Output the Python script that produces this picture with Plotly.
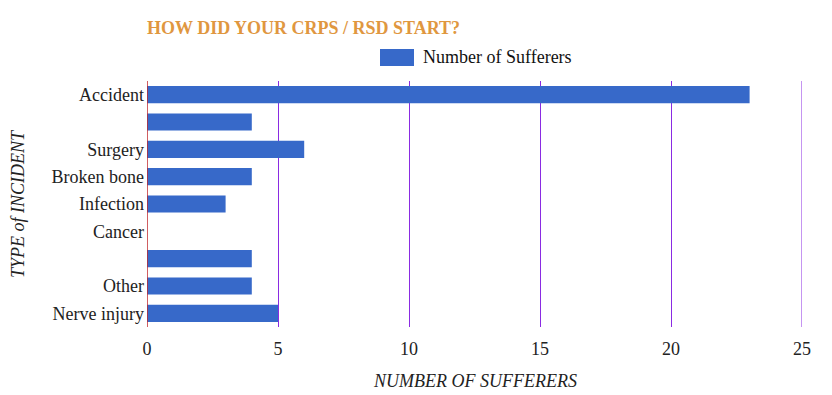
import plotly.graph_objects as go

categories = ["Accident", "", "Surgery", "Broken bone", "Infection", "Cancer", "", "Other", "Nerve injury"]
values = [23, 4, 6, 4, 3, 0, 4, 4, 5]
series_name = "Number of Sufferers"
x_ticks = [0, 5, 10, 15, 20, 25]

W, H = 832, 395
L, R, T, B = 147, 30, 81, 68
PW, PH = W - L - R, H - T - B
FONT = "Liberation Serif, Times New Roman, serif"
BLUE = "#3769c9"
FS = 18

positions = list(range(len(categories)))

fig = go.Figure()
fig.add_trace(go.Bar(
    x=values, y=positions, orientation="h", name=series_name,
    marker=dict(color=BLUE, line=dict(width=0)), showlegend=False,
))

fig.update_layout(
    width=W, height=H,
    margin=dict(l=L, r=R, t=T, b=B, autoexpand=False),
    paper_bgcolor="white", plot_bgcolor="white",
    font=dict(family=FONT, size=FS, color="#222222"),
    bargap=0.37,
    title=dict(
        text="<b>HOW DID YOUR CRPS / RSD START?</b>",
        font=dict(family=FONT, size=FS, color="#e0973f"),
        xref="paper", x=0, xanchor="left",
        yref="container", y=1 - 28 / H, yanchor="middle",
        automargin=False,
    ),
    xaxis=dict(
        range=[0, 25], tickvals=x_ticks, ticktext=[str(t) for t in x_ticks],
        showgrid=True, gridcolor="#8a2be2", gridwidth=1,
        zeroline=False, showline=False, automargin=False,
        ticks="outside", ticklen=5, tickcolor="rgba(0,0,0,0)",
        tickfont=dict(family=FONT, size=FS, color="#222222"),
    ),
    yaxis=dict(
        tickvals=positions, ticktext=categories,
        range=[len(categories) - 0.5, -0.5],
        showgrid=False, zeroline=False, showline=False, automargin=False,
        ticks="", ticklabelstandoff=2,
        tickfont=dict(family=FONT, size=FS, color="#222222"),
    ),
)

# right-edge gridline at the last tick
fig.add_shape(type="line", xref="x", yref="paper", x0=x_ticks[-1], x1=x_ticks[-1], y0=0, y1=1,
              line=dict(color="#8a2be2", width=1))
# zero baseline (dark red)
fig.add_shape(type="line", xref="x", yref="paper", x0=0, x1=0, y0=0, y1=1,
              line=dict(color="#c0282d", width=1.5))

# axis titles
fig.add_annotation(text="<i>NUMBER OF SUFFERERS</i>", xref="paper", yref="paper",
                   x=0.5, xanchor="center", y=-(381 - (T + PH)) / PH, yanchor="middle",
                   showarrow=False, font=dict(family=FONT, size=FS, color="#222222"))
fig.add_annotation(text="<i>TYPE of INCIDENT</i>", xref="paper", yref="paper",
                   x=(18 - L) / PW, xanchor="center", y=1 - (204 - T) / PH, yanchor="middle",
                   textangle=-90, showarrow=False,
                   font=dict(family=FONT, size=FS, color="#222222"))

# legend drawn manually (wide swatch)
fig.add_shape(type="rect", xref="paper", yref="paper",
              x0=(380 - L) / PW, x1=(414 - L) / PW,
              y0=1 + (T - 66) / PH, y1=1 + (T - 49) / PH,
              fillcolor=BLUE, line=dict(width=0))
fig.add_annotation(text=series_name, xref="paper", yref="paper",
                   x=(421 - L) / PW, xanchor="left",
                   y=1 + (T - 57) / PH, yanchor="middle",
                   showarrow=False, font=dict(family=FONT, size=FS, color="#111111"))

fig.write_html("out.html",
               config={"displayModeBar": False},
               post_script="document.body.style.margin='0';document.body.style.overflow='hidden';")
